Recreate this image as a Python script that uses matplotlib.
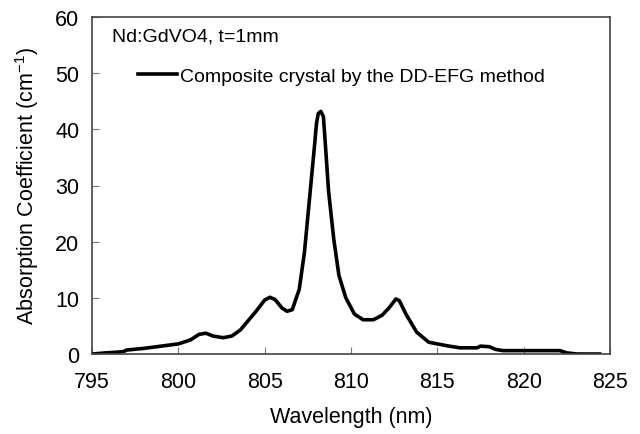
import matplotlib
matplotlib.use("Agg")
import matplotlib.pyplot as plt

plt.rcParams['font.family'] = ['Liberation Sans', 'DejaVu Sans']

# absorption spectrum
wavelength = [795.0, 795.8, 796.8, 797.0, 798.0, 799.0, 800.0, 800.7, 801.2, 801.6,
              802.0, 802.6, 803.1, 803.6, 804.2, 804.5, 805.0, 805.3, 805.6, 806.0,
              806.3, 806.6, 807.0, 807.3, 807.5, 807.7, 807.9, 808.0, 808.1, 808.25,
              808.4, 808.5, 808.7, 809.0, 809.3, 809.7, 810.2, 810.7, 811.3, 811.8,
              812.2, 812.6, 812.8, 813.2, 813.8, 814.5, 815.5, 816.3, 817.3, 817.5,
              818.0, 818.4, 818.8, 822.1, 822.5, 823.1, 824.4]
absorption = [0.0, 0.2, 0.4, 0.7, 1.0, 1.4, 1.8, 2.5, 3.5, 3.7,
              3.2, 2.9, 3.2, 4.3, 6.5, 7.6, 9.6, 10.1, 9.7, 8.2,
              7.6, 7.9, 11.5, 18.0, 24.5, 31.0, 37.5, 41.0, 42.8, 43.2,
              42.3, 38.0, 29.0, 20.5, 14.0, 10.0, 7.1, 6.1, 6.1, 6.9,
              8.2, 9.8, 9.5, 7.0, 3.9, 2.1, 1.5, 1.1, 1.1, 1.4,
              1.3, 0.8, 0.6, 0.6, 0.2, 0.0, 0.0]

xticks = [795, 800, 805, 810, 815, 820, 825]
yticks = [0, 10, 20, 30, 40, 50, 60]

fig = plt.figure(figsize=(6.4, 4.35), dpi=100)
ax = fig.add_axes([92 / 640, 80 / 435, 518 / 640, 337 / 435])

ax.plot(wavelength, absorption, color='black', lw=2.6, solid_joinstyle='round',
        label='Composite crystal by the DD-EFG method')

ax.set_xlim(795, 825)
ax.set_ylim(0, 60)
ax.set_xticks(xticks)
ax.set_yticks(yticks)
ax.tick_params(direction='in', length=5, width=0.8, color='#777777',
               labelsize=15.5, top=False, right=False)
ax.tick_params(axis='x', pad=12)
ax.tick_params(axis='y', pad=9)
for s in ax.spines.values():
    s.set_color('#444444')
    s.set_linewidth(1.2)

ax.set_xlabel('Wavelength (nm)', fontsize=15.5, labelpad=10)
ax.set_ylabel('Absorption Coefficient (cm$^{\\mathregular{-1}}$)', fontsize=15.5, labelpad=10)

ax.text(20 / 518, 1 - 19 / 337, 'Nd:GdVO4, t=1mm', transform=ax.transAxes,
        fontsize=14, va='center', ha='left')
ax.legend(loc='center left', bbox_to_anchor=(46 / 518, 1 - 59 / 337), frameon=False,
          fontsize=14, handlelength=2.0, handletextpad=0.15, borderaxespad=0,
          borderpad=0)

fig.savefig('out.png', dpi=100)
